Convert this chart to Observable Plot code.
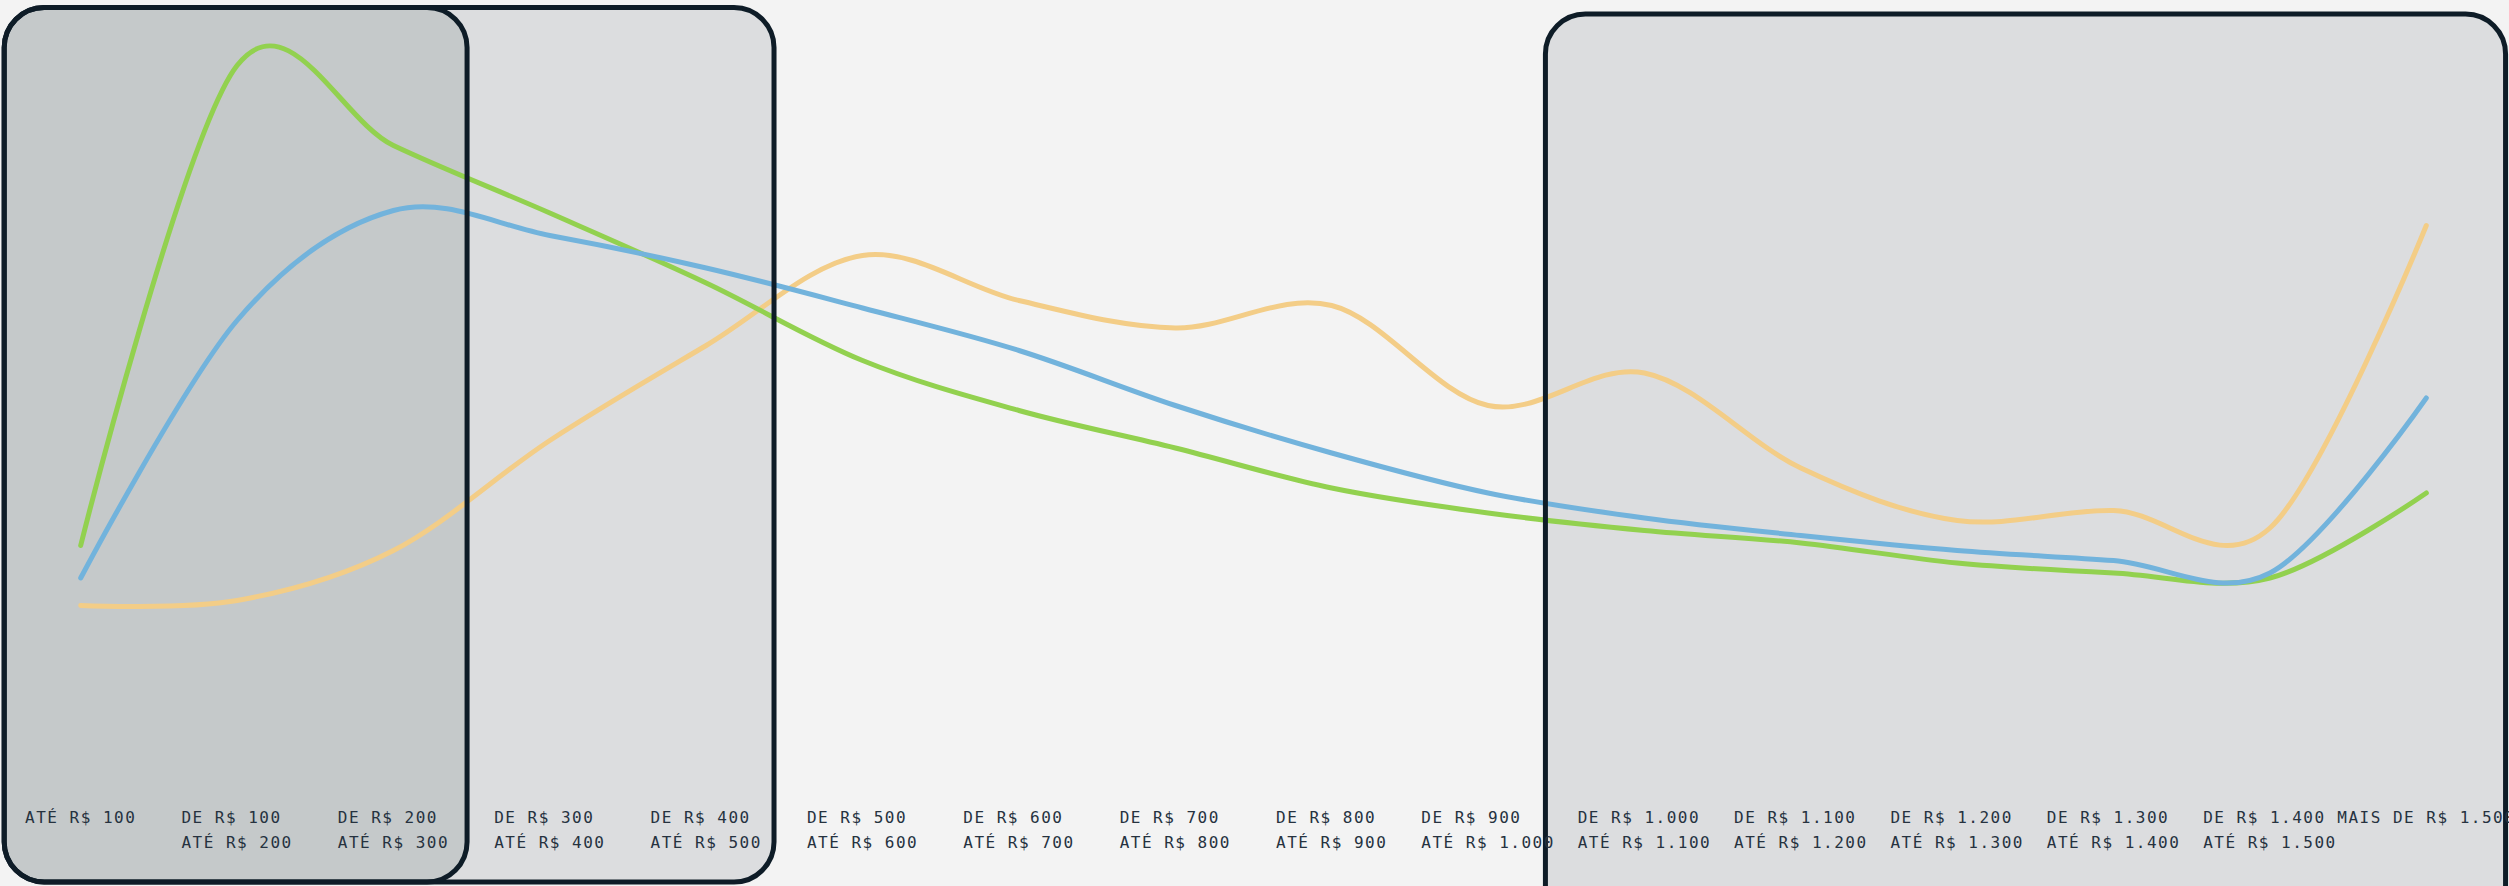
<!DOCTYPE html>
<html>
<head>
<meta charset="utf-8">
<script src="https://cdn.jsdelivr.net/npm/d3@7"></script>
<script src="https://cdn.jsdelivr.net/npm/@observablehq/plot@0.6"></script>
<style>
  html, body { margin: 0; padding: 0; background: #f3f3f3; overflow: hidden; }
  #chart svg text { letter-spacing: 1.5px; }
</style>
</head>
<body>
<div id="chart"></div>
<script>
// Faixas de gasto (categorias do eixo x)
const faixas = [
  "ATÉ R$ 100",
  "DE R$ 100\nATÉ R$ 200",
  "DE R$ 200\nATÉ R$ 300",
  "DE R$ 300\nATÉ R$ 400",
  "DE R$ 400\nATÉ R$ 500",
  "DE R$ 500\nATÉ R$ 600",
  "DE R$ 600\nATÉ R$ 700",
  "DE R$ 700\nATÉ R$ 800",
  "DE R$ 800\nATÉ R$ 900",
  "DE R$ 900\nATÉ R$ 1.000",
  "DE R$ 1.000\nATÉ R$ 1.100",
  "DE R$ 1.100\nATÉ R$ 1.200",
  "DE R$ 1.200\nATÉ R$ 1.300",
  "DE R$ 1.300\nATÉ R$ 1.400",
  "DE R$ 1.400\nATÉ R$ 1.500",
  "MAIS DE R$ 1.500"
];

// Séries (valores estimados)
const serieVerde   = [9.4, 28.6, 25.4, 22.7, 19.9, 16.8, 14.8, 13.3, 11.7, 10.7, 10.0, 9.5, 8.7, 8.3, 8.1, 11.5];
const serieAzul    = [8.1, 18.4, 22.8, 21.8, 20.5, 18.9, 17.2, 15.0, 13.1, 11.5, 10.5, 9.8, 9.2, 8.8, 8.3, 15.3];
const serieAmarela = [7.0, 7.2, 9.2, 13.6, 17.4, 21.0, 19.2, 18.1, 19.0, 15.0, 16.3, 12.5, 10.4, 10.8, 10.1, 22.2];

// Faixas destacadas (índices de categoria, valores de y)
const destaques = [
  {x1: -0.486, x2: 4.437, y1: -4.08, y2: 30.9},
  {x1: -0.486, x2: 2.474, y1: -4.08, y2: 30.9},
  {x1: 9.37,   x2: 15.51, y1: -6,    y2: 30.64}
];

const preenchimentos = ["#dcdddf", "#c5c9ca", "#dcdddf"];

function rotulo(i) {
  const linhas = faixas[i].split("\n");
  const n = d3.max(linhas, l => l.length);
  return linhas.map(l => l + "\u00A0".repeat(n - l.length)).join("\n");
}

const linha = (dados, cor) => Plot.line(dados, {
  x: (d, i) => i,
  y: d => d,
  curve: "cardinal",
  stroke: cor,
  strokeWidth: 5,
  strokeLinecap: "round",
  strokeLinejoin: "round"
});

const chart = Plot.plot({
  width: 2509,
  height: 886,
  marginTop: 30,
  marginBottom: 106,
  marginLeft: 0,
  marginRight: 0,
  style: {background: "#f3f3f3", fontFamily: "DejaVu Sans Mono", color: "#26323f"},
  x: {type: "linear", domain: [-0.5, 15.5], range: [2, 2504]},
  y: {domain: [0, 30], axis: null},
  marks: [
    Plot.rect(destaques, {
      x1: "x1", x2: "x2", y1: "y1", y2: "y2",
      fill: (d, i) => preenchimentos[i],
      rx: 40, ry: 40
    }),
    linha(serieAmarela, "#f3cd87"),
    linha(serieVerde, "#92d14f"),
    linha(serieAzul, "#72b3dc"),
    Plot.rect(destaques, {
      x1: "x1", x2: "x2", y1: "y1", y2: "y2",
      fill: "none", stroke: "#0e1c27", strokeWidth: 5,
      rx: 40, ry: 40
    }),
    Plot.axisX({
      ticks: d3.range(faixas.length),
      tickFormat: rotulo,
      tickSize: 0,
      tickPadding: 25,
      fontSize: 16,
      lineHeight: 1.5625,
      fill: "#26323f"
    })
  ]
});

document.getElementById("chart").appendChild(chart);
</script>
</body>
</html>
